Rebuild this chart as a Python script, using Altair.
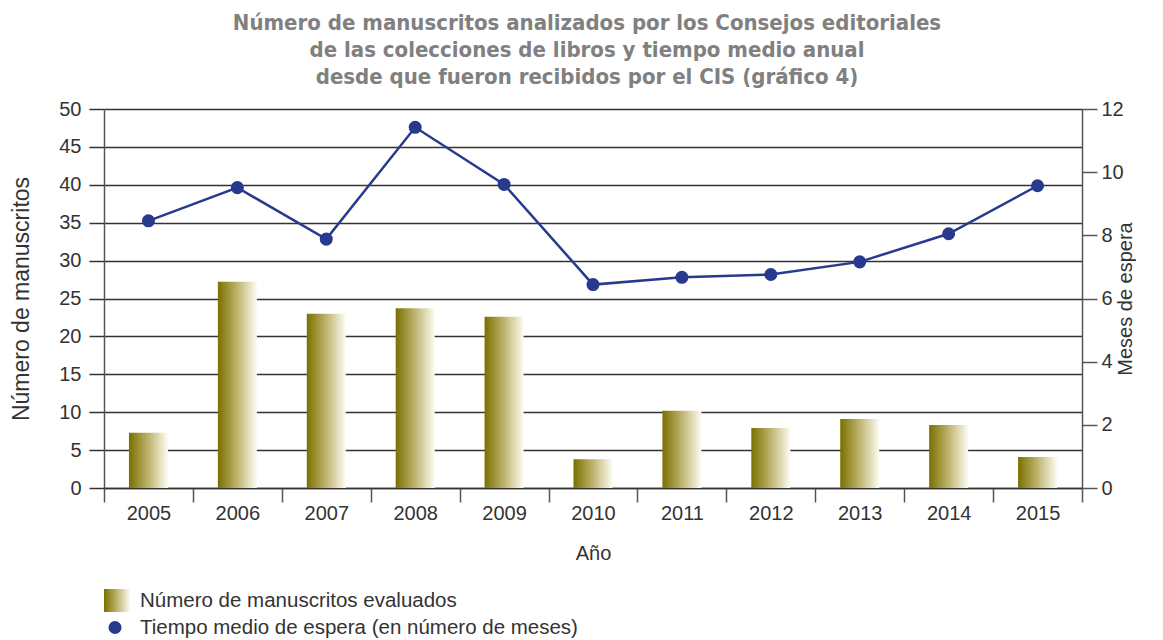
import altair as alt
import pandas as pd

years = ["2005", "2006", "2007", "2008", "2009", "2010", "2011", "2012", "2013", "2014", "2015"]
manuscritos = [7.3, 27.2, 23.0, 23.7, 22.6, 3.8, 10.2, 7.9, 9.1, 8.3, 4.1]
meses = [8.46, 9.51, 7.88, 11.42, 9.61, 6.44, 6.67, 6.76, 7.16, 8.05, 9.57]

title_lines = [
    "Número de manuscritos analizados por los Consejos editoriales",
    "de las colecciones de libros y tiempo medio anual",
    "desde que fueron recibidos por el CIS (gráfico 4)",
]
legend_labels = [
    "Número de manuscritos evaluados",
    "Tiempo medio de espera (en número de meses)",
]
legend_kinds = ["bar", "point"]

NAVY = "#283a8e"
TXT = "#333333"
FONT = "Liberation Sans"
GRAD = alt.Gradient(
    gradient="linear",
    stops=[
        alt.GradientStop(color="#7a7000", offset=0),
        alt.GradientStop(color="#b8ad62", offset=0.45),
        alt.GradientStop(color="#fdfcf3", offset=1),
    ],
    x1=0, x2=1, y1=0, y2=0,
)

df = pd.DataFrame({"year": years, "manuscritos": manuscritos, "meses": meses})

base = alt.Chart(df).encode(
    x=alt.X(
        "year:O",
        scale=alt.Scale(paddingInner=0, paddingOuter=0),
        axis=alt.Axis(
            title="Año", tickBand="extent", labelAngle=0, tickSize=14,
            labelPadding=1, titlePadding=20, labelFontSize=20, titleFontSize=20,
            labelFont=FONT, titleFont=FONT, labelColor=TXT, titleColor=TXT,
            titleFontWeight="normal", tickColor="#555555", tickWidth=1.5,
            domainColor="#333333", domainWidth=1.5, grid=False,
        ),
    )
)

bars = base.mark_bar(size=39, color=GRAD).encode(
    y=alt.Y(
        "manuscritos:Q",
        scale=alt.Scale(domain=[0, 50], nice=False),
        axis=alt.Axis(
            title="Número de manuscritos", values=list(range(0, 51, 5)),
            grid=True, gridColor="#333333", gridWidth=1.5,
            tickSize=15, tickColor="#333333", tickWidth=1.5,
            labelPadding=8, titlePadding=25, labelFontSize=20, titleFontSize=23,
            labelFont=FONT, titleFont=FONT, labelColor=TXT, titleColor=TXT,
            titleFontWeight="normal", domainColor="#555555", domainWidth=1.5,
        ),
    )
)

line = base.mark_line(
    color=NAVY, strokeWidth=2.5,
    point=alt.OverlayMarkDef(filled=True, size=170, color=NAVY, opacity=1),
).encode(
    y=alt.Y(
        "meses:Q",
        scale=alt.Scale(domain=[0, 12], nice=False),
        axis=alt.Axis(
            title="Meses de espera", orient="right", values=list(range(0, 13, 2)),
            grid=False, tickSize=15, tickColor="#555555", tickWidth=1.5,
            labelPadding=4, titlePadding=12, labelFontSize=20, titleFontSize=20,
            titleAngle=270, titleBaseline="bottom",
            labelFont=FONT, titleFont=FONT, labelColor=TXT, titleColor=TXT,
            titleFontWeight="normal", domainColor="#555555", domainWidth=1.5,
        ),
    )
)

main = alt.layer(bars, line).resolve_scale(y="independent").properties(width=978, height=379)

ldf = pd.DataFrame({"label": legend_labels, "kind": legend_kinds})
lbase = alt.Chart(ldf).encode(
    y=alt.Y("label:N", sort=legend_labels, axis=None,
            scale=alt.Scale(paddingInner=0, paddingOuter=0))
)
sq = lbase.transform_filter(alt.datum.kind == "bar").mark_bar(size=23, color=GRAD).encode(
    x=alt.value(0), x2=alt.value(26)
)
dot = lbase.transform_filter(alt.datum.kind == "point").mark_circle(
    size=170, color=NAVY, opacity=1
).encode(x=alt.value(11))
txt = lbase.mark_text(align="left", baseline="middle", fontSize=20.5, font=FONT, color=TXT).encode(
    x=alt.value(36), text="label:N"
)
legend = alt.layer(sq, dot, txt).properties(width=978, height=54)

chart = (
    alt.vconcat(main, legend, spacing=24)
    .properties(
        title=alt.TitleParams(
            text=title_lines, fontSize=22, font="Liberation Sans Narrow, DejaVu Sans Condensed, sans-serif",
            fontWeight="bold", color="#808080", lineHeight=27, anchor="middle", offset=10, dx=14,
        ),
        padding={"left": 2, "top": 4, "right": 0, "bottom": 0},
    )
    .configure_view(stroke=None)
)

chart.save("out.html", embed_options={"renderer": "svg", "actions": False})
